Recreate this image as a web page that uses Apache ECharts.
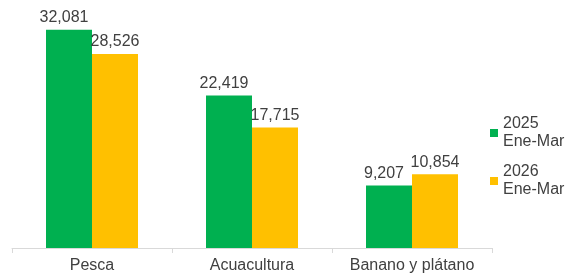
<!DOCTYPE html>
<html>
<head>
<meta charset="utf-8">
<script src="https://cdn.jsdelivr.net/npm/echarts@6/dist/echarts.min.js"></script>
<style>
html, body { margin: 0; padding: 0; background: #fff; }
#chart { width: 565px; height: 275px; }
</style>
</head>
<body>
<div id="chart"></div>
<script>
const categories = ['Pesca', 'Acuacultura', 'Banano y plátano']
const seriesNames = ['2025\nEne-Mar', '2026\nEne-Mar']
const values2025 = [32081, 22419, 9207]
const values2026 = [28526, 17715, 10854]
const colors = ['#00B050', '#FFC000']
const textColor = '#404040'
const font = 'Liberation Sans, Arial, sans-serif'

const chart = echarts.init(document.getElementById('chart'), null, {renderer: 'canvas'})

// label with thousands separator
const fmt = p => p.value.toLocaleString('en-US')

const labelStyle = {
  show: true,
  position: 'top',
  distance: 4,
  color: textColor,
  fontSize: 16,
  fontFamily: font,
  formatter: fmt
}

chart.setOption({
  animation: false,
  grid: {left: 12, right: 73, top: 10, bottom: 27},
  legend: {
    orient: 'vertical',
    left: 485,
    top: 101,
    itemWidth: 8,
    itemHeight: 8,
    itemGap: -6,
    icon: 'rect',
    textStyle: {
      color: textColor,
      fontSize: 16,
      fontFamily: font,
      lineHeight: 18,
      overflow: 'none',
      width: 80,
      padding: [18, 0, 0, 0]
    },
    data: seriesNames
  },
  xAxis: {
    type: 'category',
    data: categories,
    axisLine: {lineStyle: {color: '#D9D9D9'}},
    axisTick: {show: true, length: 5, lineStyle: {color: '#D9D9D9'}},
    axisLabel: {color: textColor, fontSize: 16, fontFamily: font, margin: 10, interval: 0}
  },
  yAxis: {
    type: 'value',
    min: 0,
    max: 35000,
    show: false,
    splitLine: {show: false}
  },
  series: [
    {
      name: seriesNames[0],
      type: 'bar',
      data: values2025,
      itemStyle: {color: colors[0]},
      barGap: '0%',
      barCategoryGap: '42.5%',
      label: Object.assign({}, labelStyle, {offset: [-5, 0]})
    },
    {
      name: seriesNames[1],
      type: 'bar',
      data: values2026,
      itemStyle: {color: colors[1]},
      barGap: '0%',
      barCategoryGap: '42.5%',
      label: labelStyle
    }
  ]
})
</script>
</body>
</html>
